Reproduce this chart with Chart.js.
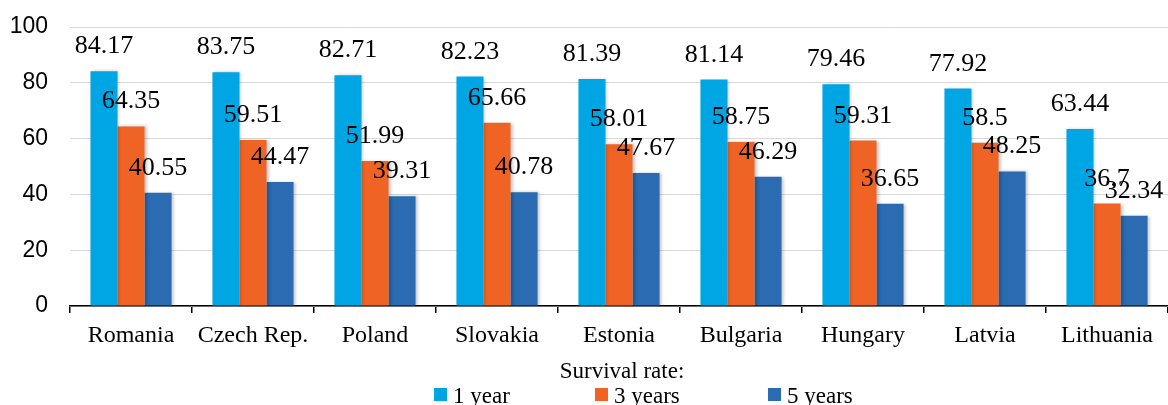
<!DOCTYPE html>
<html lang="en">
<head>
<meta charset="UTF-8">
<title>Survival rate</title>
<script src="https://cdn.jsdelivr.net/npm/chart.js@4/dist/chart.umd.min.js"></script>
<style>
  html, body { margin: 0; padding: 0; background: #fff; }
  #wrap { width: 1168px; height: 405px; position: relative; }
</style>
</head>
<body>
<div id="wrap"><canvas id="survivalChart"></canvas></div>
<script>
// data
const countries = ['Romania', 'Czech Rep.', 'Poland', 'Slovakia', 'Estonia', 'Bulgaria', 'Hungary', 'Latvia', 'Lithuania'];
const oneYear   = [84.17, 83.75, 82.71, 82.23, 81.39, 81.14, 79.46, 77.92, 63.44];
const threeYear = [64.35, 59.51, 51.99, 65.66, 58.01, 58.75, 59.31, 58.5, 36.7];
const fiveYear  = [40.55, 44.47, 39.31, 40.78, 47.67, 46.29, 36.65, 48.25, 32.34];
const seriesNames = ['1 year', '3 years', '5 years'];
const yTicks = [0, 20, 40, 60, 80, 100];
const legendTitle = 'Survival rate:';

const colors = ['#00a6e4', '#ef6424', '#2a6bb1'];
const serif = '"Liberation Serif", "Times New Roman", serif';

// value labels above each bar
const valueLabels = {
    id: 'valueLabels',
    beforeDatasetsDraw(chart) {
        const ctx = chart.ctx;
        ctx.shadowColor = 'rgba(0,0,0,0.22)';
        ctx.shadowOffsetX = 2;
        ctx.shadowOffsetY = 0;
        ctx.shadowBlur = 3;
    },
    afterDatasetsDraw(chart) {
        const ctx = chart.ctx;
        ctx.save();
        ctx.shadowColor = 'transparent';
        ctx.shadowBlur = 0;
        ctx.shadowOffsetX = 0;
        ctx.font = '26px ' + serif;
        ctx.fillStyle = '#000';
        ctx.textAlign = 'center';
        ctx.textBaseline = 'alphabetic';
        chart.data.datasets.forEach((ds, i) => {
            chart.getDatasetMeta(i).data.forEach((bar, j) => {
                ctx.fillText(String(ds.data[j]), bar.x, bar.y - 18);
            });
        });
        ctx.restore();
    }
};

// legend drawn by hand to get the wide spacing of the original
const bottomLegend = {
    id: 'bottomLegend',
    afterDraw(chart) {
        const ctx = chart.ctx;
        ctx.save();
        ctx.shadowColor = 'transparent';
        ctx.font = '23px ' + serif;
        ctx.fillStyle = '#000';
        ctx.textBaseline = 'alphabetic';
        ctx.textAlign = 'center';
        ctx.fillText(legendTitle, 622, 378);
        const boxX = [434, 595, 768];
        ctx.textAlign = 'left';
        chart.data.datasets.forEach((ds, i) => {
            ctx.fillStyle = ds.backgroundColor;
            ctx.fillRect(boxX[i], 388, 13, 13);
            ctx.fillStyle = '#000';
            ctx.fillText(ds.label, boxX[i] + 19, 403);
        });
        ctx.restore();
    }
};

new Chart(document.getElementById('survivalChart'), {
    type: 'bar',
    data: {
        labels: countries,
        datasets: [
            { label: seriesNames[0], data: oneYear, backgroundColor: colors[0] },
            { label: seriesNames[1], data: threeYear, backgroundColor: colors[1] },
            { label: seriesNames[2], data: fiveYear, backgroundColor: colors[2] }
        ]
    },
    options: {
        responsive: true,
        maintainAspectRatio: false,
        animation: false,
        layout: { padding: { top: 27, right: 0, left: 0, bottom: 0 } },
        datasets: { bar: { categoryPercentage: 0.665, barPercentage: 1.0 } },
        plugins: {
            legend: { display: false },
            tooltip: { enabled: false }
        },
        scales: {
            x: {
                afterFit: s => { s.height = 99; },
                grid: {
                    offset: true,
                    drawOnChartArea: false,
                    drawTicks: true,
                    tickLength: 7,
                    color: '#000',
                    lineWidth: 1.5
                },
                border: { color: '#000', width: 1.5 },
                ticks: {
                    color: '#000',
                    padding: 8,
                    maxRotation: 0,
                    font: { family: serif, size: 24 }
                }
            },
            y: {
                min: 0,
                max: 100,
                afterFit: s => { s.width = 70; s.paddingTop = 0; s.paddingBottom = 0; },
                afterBuildTicks: s => { s.ticks = yTicks.map(v => ({ value: v })); },
                grid: { color: '#d9d9d9', lineWidth: 1, drawTicks: false },
                border: { display: false },
                ticks: {
                    color: '#000',
                    padding: 22,
                    font: { family: '"Liberation Sans", Arial, sans-serif', size: 23 }
                }
            }
        }
    },
    plugins: [valueLabels, bottomLegend]
});
</script>
</body>
</html>
